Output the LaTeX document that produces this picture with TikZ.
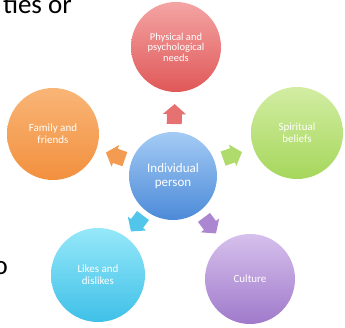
\documentclass[tikz,border=0pt]{standalone}
\usepackage{fontspec}
\setmainfont{Carlito}
\usetikzlibrary{calc}
\usetikzlibrary{shapes}
\definecolor{redtop}{HTML}{F4A4A4}
\definecolor{redbot}{HTML}{E05858}
\definecolor{orgtop}{HTML}{F9B577}
\definecolor{orgbot}{HTML}{F2903E}
\definecolor{grntop}{HTML}{D2EDA2}
\definecolor{grnbot}{HTML}{A6D75C}
\definecolor{blutop}{HTML}{A4CBF5}
\definecolor{blubot}{HTML}{4C8AD8}
\definecolor{cyntop}{HTML}{96E8F9}
\definecolor{cynbot}{HTML}{3FC0E8}
\definecolor{purtop}{HTML}{D6C0EC}
\definecolor{purbot}{HTML}{A07ACB}
\newcommand{\spoke}[4]{ \fill[#1, shift={($(#2)!0.48!(#3)$)}, rotate=#4] (-10,-7.5) -- (0,-7.5) -- (0,-11.5) -- (10,0) -- (0,11.5) -- (0,7.5) -- (-10,7.5) -- cycle;}
\tikzset{
    ball/.style={circle, inner sep=0pt, align=center, text=white,
        font=\fontsize{11}{12}\selectfont},
}

\begin{document}
\begin{tikzpicture}[x=1pt, y=1pt]
        \useasboundingbox (0,0) rectangle (345,328);

        % circles
        \node[ball, minimum size=88, top color=blutop, bottom color=blubot,
            font=\fontsize{13}{14}\selectfont] (ind) at (173,152) {Individual\\person};
        \node[ball, minimum size=90, top color=redtop, bottom color=redbot,
            font=\fontsize{10.5}{10.5}\selectfont] (phy) at (176,281) {Physical and\\psychological\\needs};
        \node[ball, minimum size=92, top color=orgtop, bottom color=orgbot] (fam) at (53,194) {Family and\\friends};
        \node[ball, minimum size=92, top color=grntop, bottom color=grnbot] (spi) at (297,195) {Spiritual\\beliefs};
        \node[ball, minimum size=94, top color=cyntop, bottom color=cynbot] (lik) at (98,53) {Likes and\\dislikes};
        \node[ball, minimum size=90, top color=purtop, bottom color=purbot] (cul) at (250,49) {Culture};

        % arrows
        \spoke{redbot!85!white}{ind}{phy}{88.7}
        \spoke{orgbot!90!white}{ind}{fam}{160.7}
        \spoke{grnbot!90!white}{ind}{spi}{19.1}
        \spoke{cynbot!90!white}{ind}{lik}{232.9}
        \spoke{purbot!90!white}{ind}{cul}{306.8}

        % text cut off at the edges
        \node[anchor=base east, inner sep=0pt, font=\fontsize{27}{27}\selectfont] (tie) at (72,314) {ties or};
        \node[anchor=base east, inner sep=0pt, font=\fontsize{27}{27}\selectfont] (oo) at (8,53) {o};
    \end{tikzpicture}
\end{document}
